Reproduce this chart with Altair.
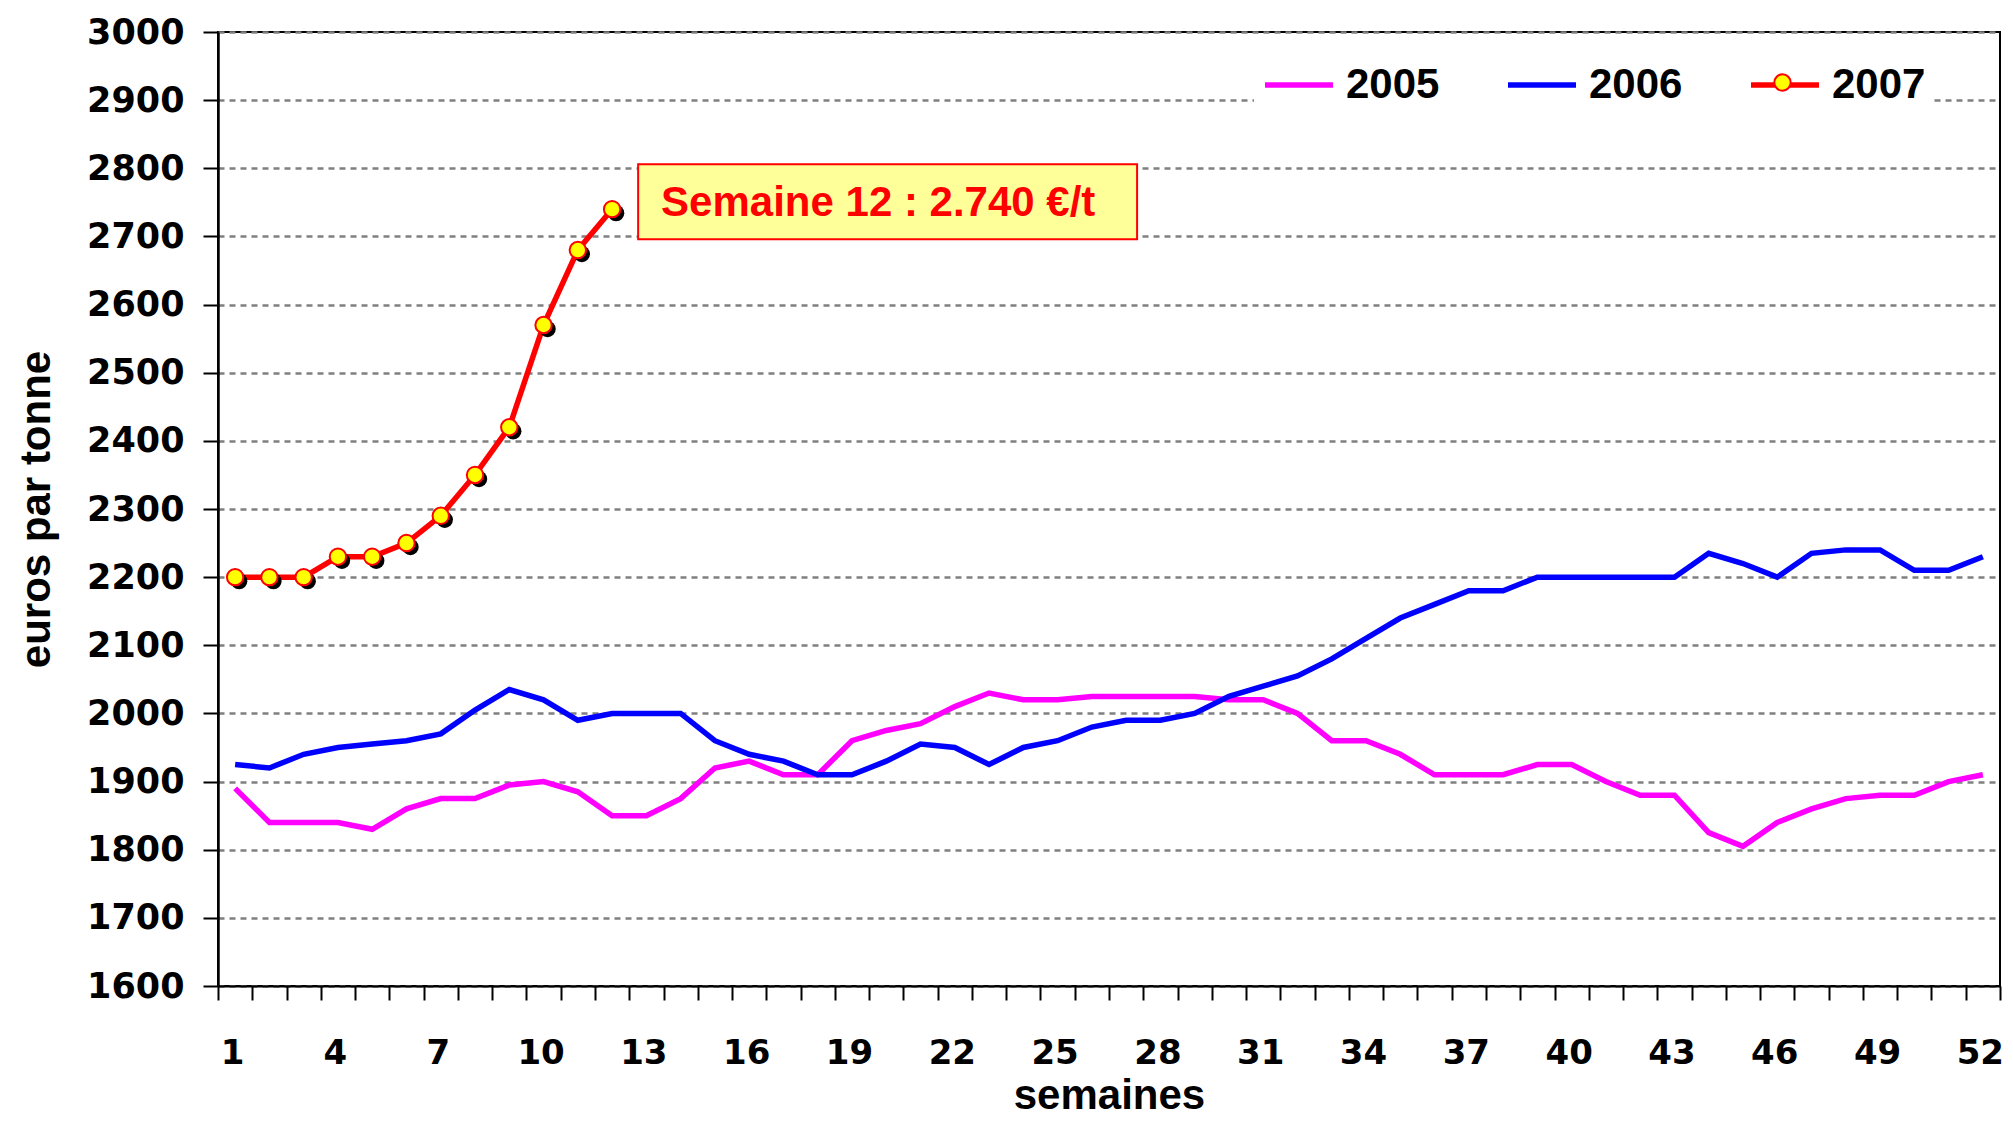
import altair as alt
import pandas as pd

# ---- data ----
weeks = list(range(1, 53))
p2005 = [1890, 1840, 1840, 1840, 1830, 1860, 1875, 1875, 1895, 1900,
         1885, 1850, 1850, 1875, 1920, 1930, 1910, 1910, 1960, 1975,
         1985, 2010, 2030, 2020, 2020, 2025, 2025, 2025, 2025, 2020,
         2020, 2000, 1960, 1960, 1940, 1910, 1910, 1910, 1925, 1925,
         1900, 1880, 1880, 1825, 1805, 1840, 1860, 1875, 1880, 1880,
         1900, 1910]
p2006 = [1925, 1920, 1940, 1950, 1955, 1960, 1970, 2005, 2035, 2020,
         1990, 2000, 2000, 2000, 1960, 1940, 1930, 1910, 1910, 1930,
         1955, 1950, 1925, 1950, 1960, 1980, 1990, 1990, 2000, 2025,
         2040, 2055, 2080, 2110, 2140, 2160, 2180, 2180, 2200, 2200,
         2200, 2200, 2200, 2235, 2220, 2200, 2235, 2240, 2240, 2210,
         2210, 2230]
p2007 = [2200, 2200, 2200, 2230, 2230, 2250, 2290, 2350, 2420, 2570,
         2680, 2740]
years = ["2005", "2006", "2007"]
colors = ["#FF00FF", "#0000FF", "#FF0000"]
y_ticks = list(range(1600, 3001, 100))

note_text = "Semaine 12 : 2.740 €/t"
note_x, note_x2 = 12.76, 27.32      # annotation box, in weeks
note_y, note_y2 = 2696, 2806        # annotation box, in euros
note_tx, note_ty = 13.43, 2749      # annotation text anchor

# ---- tables ----
rows = []
for yr, vals in zip(years, [p2005, p2006, p2007]):
    for w, v in zip(weeks, vals):
        rows.append({"year": yr, "week": w, "price": v})
df = pd.DataFrame(rows)
pts = df[df["year"] == "2007"].assign(marker="2007")
box_df = pd.DataFrame([{"week": note_x, "week2": note_x2,
                        "price": note_y, "price2": note_y2}])
txt_df = pd.DataFrame([{"week": note_tx, "price": note_ty, "label": note_text}])

W, H = 1782, 954
band = W / 52
x_bounds = [w - 0.5 for w in weeks] + [52.5]

BOLD_NUM = "DejaVu Sans"
SANS = "Liberation Sans"
PT_SIZE = 269

x_enc = alt.X(
    "week:Q",
    scale=alt.Scale(domain=[0.5, 52.5], nice=False, zero=False),
    axis=alt.Axis(
        values=x_bounds,
        title="semaines",
        grid=False,
        labelExpr="(datum.value + 0.5) % 3 == 1 ? format(datum.value + 0.5, 'd') : ''",
        labelOffset=band / 2 - 3,
        labelFlush=False,
        labelOverlap=False,
        labelFont=BOLD_NUM,
        labelFontSize=34,
        labelFontWeight="bold",
        labelColor="black",
        labelPadding=36,
        tickSize=14,
        tickWidth=2,
        tickColor="black",
        domainColor="black",
        domainWidth=2,
        titleFont=SANS,
        titleFontSize=42,
        titleFontWeight="bold",
        titleColor="black",
        titlePadding=5,
    ),
)
y_enc = alt.Y(
    "price:Q",
    scale=alt.Scale(domain=[1600, 3000], nice=False, zero=False),
    axis=alt.Axis(
        values=y_ticks,
        format="d",
        title="euros par tonne",
        grid=True,
        gridColor="#808080",
        gridDash=[6, 5],
        gridWidth=2.5,
        labelFont=BOLD_NUM,
        labelFontSize=35,
        labelFontWeight="bold",
        labelColor="black",
        labelPadding=19,
        tickSize=15,
        tickWidth=2,
        tickColor="black",
        domainColor="black",
        domainWidth=2.5,
        titleFont=SANS,
        titleFontSize=42,
        titleFontWeight="bold",
        titleColor="black",
        titlePadding=28,
    ),
)

box = alt.Chart(box_df).mark_rect(
    fill="#FFFF99", stroke="#FF0000", strokeWidth=2
).encode(x=x_enc, x2="week2:Q", y=y_enc, y2="price2:Q")

txt = alt.Chart(txt_df).mark_text(
    align="left", baseline="middle", font=SANS, fontSize=42,
    fontWeight="bold", color="#FF0000"
).encode(x=x_enc, y=y_enc, text="label:N")

lines = alt.Chart(df).mark_line().encode(
    x=x_enc,
    y=y_enc,
    color=alt.Color(
        "year:N",
        scale=alt.Scale(domain=years, range=colors),
        legend=alt.Legend(
            title=None,
            orient="none",
            legendX=1036,
            legendY=8,
            direction="horizontal",
            padding=8,
            fillColor="white",
            symbolType="stroke",
            symbolSize=4624,
            symbolStrokeWidth=6,
            labelOffset=10,
            columnPadding=57,
            labelFont=SANS,
            labelFontSize=42,
            labelFontWeight="bold",
            labelColor="black",
        ),
    ),
    strokeWidth=alt.StrokeWidth(
        "year:N",
        scale=alt.Scale(domain=years, range=[5.5, 5.5, 6]),
        legend=None,
    ),
    order="week:Q",
)

shadow = alt.Chart(pts).mark_circle(
    color="black", size=PT_SIZE, opacity=1, xOffset=4, yOffset=4
).encode(x=x_enc, y=y_enc)

points = alt.Chart(pts).mark_circle(
    size=PT_SIZE, opacity=1, stroke="#FF0000", strokeWidth=2
).encode(
    x=x_enc,
    y=y_enc,
    fill=alt.Fill(
        "marker:N",
        scale=alt.Scale(domain=["2007"], range=["#FFFF00"]),
        legend=alt.Legend(
            title=None,
            orient="none",
            legendX=1555,
            legendY=41,
            padding=0,
            symbolType="circle",
            symbolSize=PT_SIZE,
            symbolStrokeColor="#FF0000",
            symbolStrokeWidth=2,
            labelExpr="''",
            labelFontSize=1,
            labelOffset=0,
        ),
    ),
)

chart = (
    alt.layer(box, txt, lines, shadow, points)
    .properties(
        width=W,
        height=H,
        autosize=alt.AutoSizeParams(type="none"),
        padding={"left": 210, "top": 24, "right": 5, "bottom": 133},
        background="white",
    )
    .configure_view(stroke="black", strokeWidth=2)
)

chart.save("out.html", embed_options={"renderer": "svg", "actions": False})
